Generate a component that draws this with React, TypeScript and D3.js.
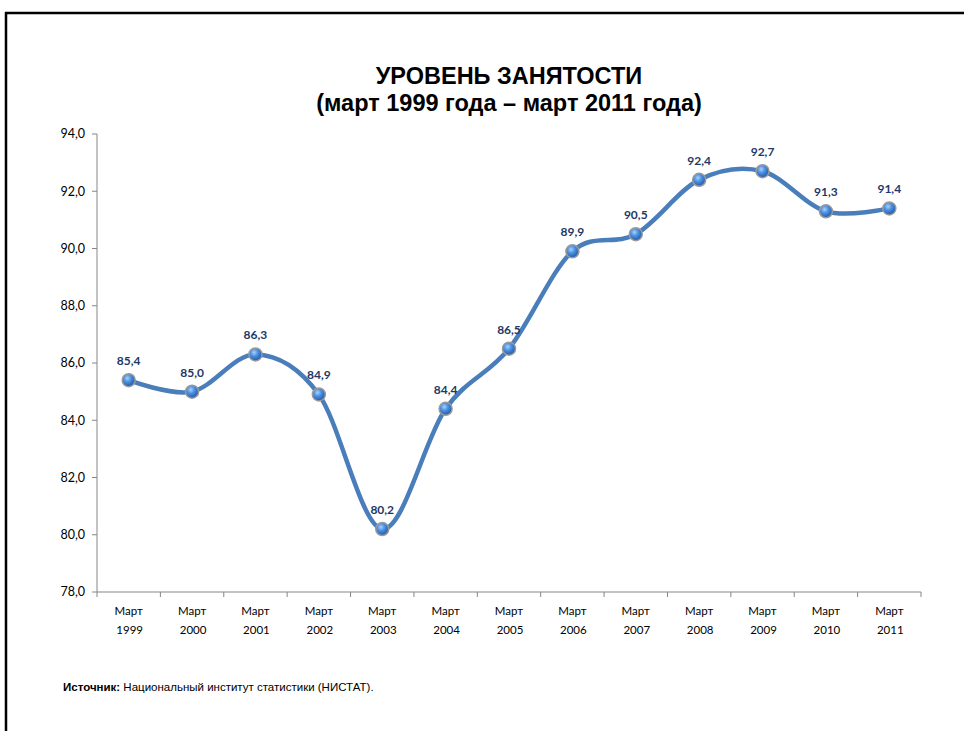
import React from 'react';
import * as d3 from 'd3';

const years = ['1999', '2000', '2001', '2002', '2003', '2004', '2005', '2006', '2007', '2008', '2009', '2010', '2011'];
const employment = [85.4, 85.0, 86.3, 84.9, 80.2, 84.4, 86.5, 89.9, 90.5, 92.4, 92.7, 91.3, 91.4];
const yTicks = [78, 80, 82, 84, 86, 88, 90, 92, 94];
const monthLabel = 'Март';

const fmt = (v: number) => v.toFixed(1).replace('.', ',');

const App: React.FC = () => {
  const width = 964;
  const height = 731;
  const plot = { left: 97, right: 921, top: 134, bottom: 592 };

  const x = d3.scaleBand<string>().domain(years).range([plot.left, plot.right]);
  const y = d3.scaleLinear().domain([78, 94]).range([plot.bottom, plot.top]);

  const cx = (i: number) => (x(years[i]) as number) + x.bandwidth() / 2;

  const line = d3
    .line<number>()
    .x((_, i) => cx(i))
    .y((d) => y(d))
    .curve(d3.curveCardinal.tension(0));

  const boundaries = years.map((yr) => x(yr) as number).concat([plot.right]);
  const font = "Lato, 'Open Sans', 'DejaVu Sans', sans-serif";

  return (
    <svg
      width={width}
      height={height}
      style={{ position: 'absolute', left: 0, top: 0, background: '#fff' }}
    >
      <defs>
        <radialGradient id="ball" cx="0.4" cy="0.35" r="0.65">
          <stop offset="0%" stopColor="#a9d0fb" />
          <stop offset="45%" stopColor="#4a8fe0" />
          <stop offset="100%" stopColor="#1f5aa8" />
        </radialGradient>
      </defs>

      {/* page frame */}
      <line x1={5} x2={964} y1={13} y2={13} stroke="#000" strokeWidth={2.5} />
      <line x1={6} x2={6} y1={12} y2={731} stroke="#000" strokeWidth={2.5} />

      {/* title */}
      <g fontFamily="'Liberation Sans', Arial, sans-serif" fontWeight="bold" fontSize={23.5} fill="#000" textAnchor="middle">
        <text x={(plot.left + plot.right) / 2} y={84}>УРОВЕНЬ ЗАНЯТОСТИ</text>
        <text x={(plot.left + plot.right) / 2} y={111}>(март 1999 года – март 2011 года)</text>
      </g>

      {/* y axis */}
      <line x1={plot.left} x2={plot.left} y1={plot.top} y2={plot.bottom} stroke="#868686" strokeWidth={1} />
      {yTicks.map((t) => (
        <g key={t}>
          <line x1={plot.left - 5} x2={plot.left} y1={y(t)} y2={y(t)} stroke="#868686" />
          <text
            x={plot.left - 12}
            y={y(t)}
            dy="0.35em"
            textAnchor="end"
            fontFamily={font}
            fontSize={12.5}
            fill="#000"
          >
            {fmt(t)}
          </text>
        </g>
      ))}

      {/* x axis */}
      <line x1={plot.left} x2={plot.right} y1={plot.bottom} y2={plot.bottom} stroke="#868686" />
      {boundaries.map((b, i) => (
        <line key={i} x1={b} x2={b} y1={plot.bottom} y2={plot.bottom + 5} stroke="#868686" />
      ))}
      {years.map((yr, i) => (
        <g key={yr} fontFamily={font} fontSize={11.5} fill="#000" textAnchor="middle">
          <text x={cx(i)} y={615}>{monthLabel}</text>
          <text x={cx(i) + 1} y={634}>{yr}</text>
        </g>
      ))}

      {/* line */}
      <path d={line(employment) as string} fill="none" stroke="#4a7ebb" strokeWidth={4.5} strokeLinecap="round" />

      {/* markers */}
      {employment.map((v, i) => (
        <circle key={i} cx={cx(i)} cy={y(v)} r={6.5} fill="url(#ball)" stroke="#9a9a9a" strokeWidth={1.5} />
      ))}

      {/* data labels */}
      {employment.map((v, i) => (
        <text
          key={i}
          x={cx(i)}
          y={y(v) - 15}
          textAnchor="middle"
          fontFamily={font}
          fontWeight="bold"
          fontSize={12}
          fill="#1f3864"
        >
          {fmt(v)}
        </text>
      ))}

      {/* source */}
      <text x={63} y={691} fontFamily="'Liberation Sans Narrow', 'Arial Narrow', 'Liberation Sans', sans-serif" fontSize={11.5} fill="#000">
        <tspan fontWeight="bold">Источник:</tspan> Национальный институт статистики (НИСТАТ).
      </text>
    </svg>
  );
};

export default App;
